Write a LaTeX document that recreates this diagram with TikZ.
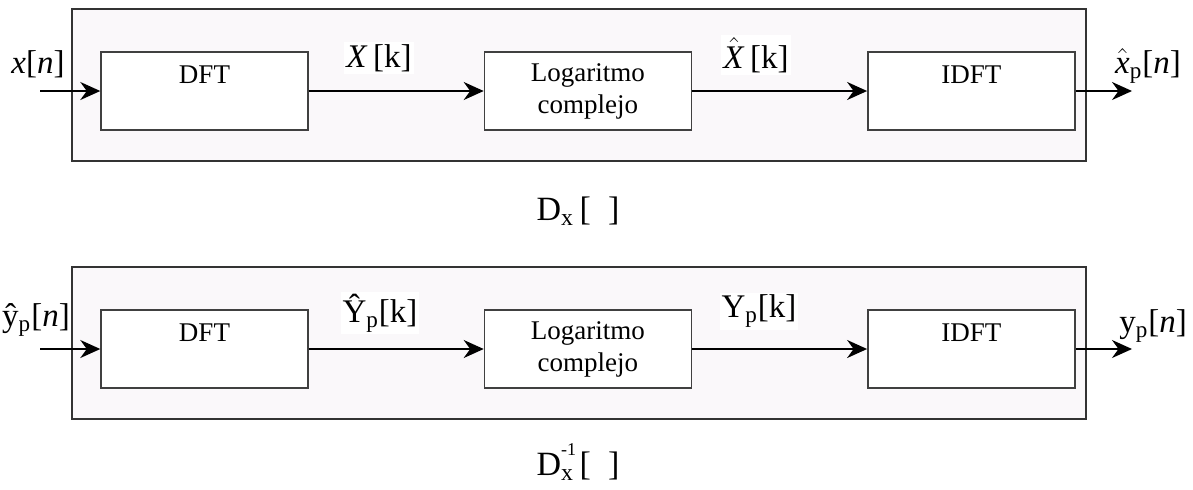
\documentclass[tikz,border=0pt]{standalone}
\usepackage{fontspec}
\setmainfont{Liberation Serif}
\usetikzlibrary{arrows.meta,positioning}

\definecolor{panel}{RGB}{250,248,250}
% hat placed over a text glyph
\newcommand{\hatted}[1]{$\hat{\mbox{#1}}$}

\begin{document}
\begin{tikzpicture}[
        x=0.5pt, y=-0.5pt,
        >={Stealth[length=10pt,width=9pt]},
        node distance=87.5pt,
        every node/.style={font=\fontsize{13.5}{16}\selectfont, align=center},
        frame/.style={draw=black!80, fill=panel, line width=0.6pt},
        block/.style={draw=black!75, fill=white, line width=0.7pt, minimum width=103.5pt, minimum height=39pt, inner sep=0pt},
        sig/.style={inner sep=1pt, font=\fontsize{16.5}{18}\selectfont},
        insig/.style={sig, fill=white},
        op/.style={font=\fontsize{17}{19}\selectfont},
        flow/.style={->, line width=1pt}
    ]
        \useasboundingbox (0,0) rectangle (1193,489);

        % analysis system
        \draw[frame] (72,9) rectangle (1086,161);
        \node[block] (dft1) at (204.5,91) {DFT\\\mbox{}};
        \node[block, right=of dft1] (log1) {Logaritmo\\complejo};
        \node[block, right=of log1] (idft1) {IDFT\\\mbox{}};
        \coordinate (in1) at (40,91);
        \coordinate (out1) at (1132,91);

        \draw[flow] (in1) -- (dft1);
        \draw[flow] (dft1) -- (log1);
        \draw[flow] (log1) -- (idft1);
        \draw[flow] (idft1) -- (out1);

        \node[sig] (xn) at (38,64) {\textit{x}[\textit{n}]};
        \node[insig] (Xk) at (379,58) {\textit{X}\,[k]};
        \node[insig] (Xhk) at (756,55) {\hatted{\textit{X}}\,[k]};
        \node[sig] (xpn) at (1148,66) {\hatted{\textit{x}}\textsubscript{p}[\textit{n}]};
        \node[op] (D) at (578,211) {D\textsubscript{x}\,[\ \ ]};

        % synthesis system
        \draw[frame] (72,267) rectangle (1086,419);
        \node[block] (dft2) at (204.5,349) {DFT\\\mbox{}};
        \node[block, right=of dft2] (log2) {Logaritmo\\complejo};
        \node[block, right=of log2] (idft2) {IDFT\\\mbox{}};
        \coordinate (in2) at (40,349);
        \coordinate (out2) at (1132,349);

        \draw[flow] (in2) -- (dft2);
        \draw[flow] (dft2) -- (log2);
        \draw[flow] (log2) -- (idft2);
        \draw[flow] (idft2) -- (out2);

        \node[sig] (ypn) at (36,320) {\^{y}\textsubscript{p}[\textit{n}]};
        \node[insig] (Ypk) at (380,313) {\^{Y}\textsubscript{p}[k]};
        \node[insig] (Yk) at (759,311) {Y\textsubscript{p}[k]};
        \node[sig] (yn) at (1153,326) {y\textsubscript{p}[\textit{n}]};
        \node[op] (Dinv) at (578,462) {D\rlap{\raisebox{1.25ex}{\fontsize{9}{9}\selectfont -1}}\textsubscript{x}\,[\ \ ]};
    \end{tikzpicture}
\end{document}
